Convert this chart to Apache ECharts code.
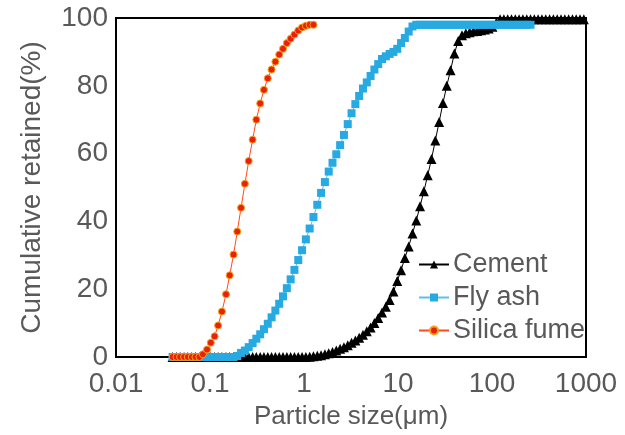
<!DOCTYPE html>
<html>
<head>
<meta charset="utf-8">
<script src="https://cdn.jsdelivr.net/npm/echarts@6/dist/echarts.min.js"></script>
<style>html,body{margin:0;padding:0;background:#fff}#c{width:625px;height:435px}</style>
</head>
<body>
<div id="c"></div>
<script>
// Particle size channels (μm)
var sizes = [0.040,0.044,0.048,0.053,0.058,0.064,0.070,0.077,0.084,0.093,
0.102,0.112,0.122,0.134,0.148,0.162,0.178,0.195,0.214,0.235,
0.258,0.284,0.311,0.342,0.375,0.412,0.452,0.496,0.545,0.598,
0.657,0.721,0.791,0.869,0.954,1.047,1.149,1.261,1.385,1.520,
1.669,1.832,2.010,2.207,2.423,2.660,2.920,3.205,3.519,3.863,
4.240,4.655,5.110,5.610,6.158,6.760,7.421,8.147,8.943,9.817,
10.78,11.83,12.99,14.26,15.65,17.18,18.86,20.70,22.73,24.95,
27.39,30.07,33.01,36.24,39.78,43.67,47.94,52.62,57.77,63.41,
69.61,76.42,83.89,92.09,101.1,111.0,121.8,133.7,146.8,161.2,
176.9,194.2,213.2,234.1,256.9,282.1,309.6,339.9,373.1,409.6,
449.7,493.6,541.9,594.9,653.0,716.9,786.9,863.9,948.2];

var cement = [0,0,0,0,0,0,0,0,0,0,
0,0,0,0,0,0,0,0,0,0,
0,0,0,0,0,0,0,0,0,0,
0,0,0,0,0,0,0.1,0.2,0.35,0.55,
0.8,1.1,1.5,1.9,2.4,2.9,3.5,4.2,4.9,5.7,
6.6,7.6,8.7,10.0,11.5,13.1,14.8,16.8,19.3,22.4,
25.6,29.2,32.6,36.4,40.3,44.5,48.9,53.6,58.4,63.9,
69.3,74.9,80.0,84.6,89.5,93.2,94.9,95.5,95.8,96.1,
96.2,96.4,96.6,96.9,97.4,98.6,99.6,99.6,99.6,99.6,
99.6,99.6,99.6,99.6,99.6,99.6,99.6,99.6,99.6,99.6,
99.6,99.6,99.6,99.6,99.6,99.6,99.6,99.6,99.6];

var flyAsh = [0,0,0,0,0,0,0,0,0,0,
0,0,0,0,0,0,0,0.3,1.2,1.9,
2.9,4.1,5.4,6.7,8.2,9.8,11.7,13.7,15.7,17.9,
20.3,22.9,25.7,28.6,31.5,34.7,37.9,41.3,44.9,48.4,
51.6,54.7,57.3,59.8,62.5,65.5,68.7,71.9,74.6,77.0,
79.2,81.0,82.9,84.8,86.4,87.9,88.7,89.4,90.0,90.9,
92.6,94.1,96.0,97.5,98.0,98.0,98.0,98.0,98.0,98.0,
98.0,98.0,98.0,98.0,98.0,98.0,98.0,98.0,98.0,98.0,
98.0,98.0,98.0,98.0,98.0,98.0,98.0,98.0,98.0,98.0,
98.0,98.0,98.0,98.0,98.0];

var silicaFume = [0,0,0,0,0,0,0,0,0.8,2.2,
4.2,6.1,9.3,13.4,18.5,24.1,30.2,37.0,44.0,51.1,
57.8,64.1,70.0,74.8,78.8,82.2,84.8,87.1,89.2,90.9,
92.6,93.9,95.1,96.3,97.2,97.7,98.0,98.0];

var seriesNames = ['Cement', 'Fly ash', 'Silica fume'];
var xTicks = [0.01, 0.1, 1, 10, 100, 1000];
var yTicks = [0, 20, 40, 60, 80, 100];

function pairs(vals) {
  var out = [];
  for (var i = 0; i < vals.length; i++) out.push([sizes[i], vals[i]]);
  return out;
}

var font = 'Liberation Sans, Arial, Helvetica, sans-serif';
var txt = '#595959';

var chart = echarts.init(document.getElementById('c'), null, {renderer: 'canvas'});
chart.setOption({
  animation: false,
  backgroundColor: '#ffffff',
  grid: {left: 116, right: 39, top: 18, bottom: 74, show: true, borderColor: '#000', borderWidth: 2, backgroundColor: 'transparent'},
  xAxis: {
    type: 'log', logBase: 10, min: xTicks[0], max: xTicks[xTicks.length - 1],
    name: 'Particle size(μm)', nameLocation: 'middle', nameGap: 47,
    nameTextStyle: {fontSize: 26, color: txt, fontFamily: font},
    axisLine: {show: true, lineStyle: {color: '#000', width: 2}},
    axisTick: {show: false},
    splitLine: {show: false},
    axisLabel: {fontSize: 28, color: txt, fontFamily: font, margin: 13,
      formatter: function (v) { return String(v); }}
  },
  yAxis: {
    type: 'value', min: yTicks[0], max: yTicks[yTicks.length - 1], interval: 20,
    name: 'Cumulative retained(%)', nameLocation: 'middle', nameGap: 70, nameRotate: 90,
    nameTextStyle: {fontSize: 28, color: txt, fontFamily: font},
    axisLine: {show: true, lineStyle: {color: '#000', width: 2}},
    axisTick: {show: false},
    splitLine: {show: false},
    axisLabel: {fontSize: 28, color: txt, fontFamily: font, margin: 8}
  },
  legend: {
    data: seriesNames, orient: 'vertical', left: 413, top: 246,
    itemWidth: 30, itemHeight: 10, itemGap: 6,
    textStyle: {fontSize: 27, color: txt, fontFamily: font, padding: [0, 0, 0, -1]}
  },
  series: [
    {name: seriesNames[0], type: 'line', data: pairs(cement), symbol: 'triangle', symbolSize: 10,
      lineStyle: {color: '#000', width: 1}, itemStyle: {color: '#000'}, z: 2},
    {name: seriesNames[1], type: 'line', data: pairs(flyAsh), symbol: 'rect', symbolSize: 8,
      lineStyle: {color: '#5bbfea', width: 1}, itemStyle: {color: '#27a9e1'}, z: 3},
    {name: seriesNames[2], type: 'line', data: pairs(silicaFume), symbol: 'circle', symbolSize: 7,
      lineStyle: {color: '#ff4a1c', width: 1}, itemStyle: {color: '#e8200c', borderColor: '#f7a11a', borderWidth: 1}, z: 4}
  ]
});
</script>
</body>
</html>
